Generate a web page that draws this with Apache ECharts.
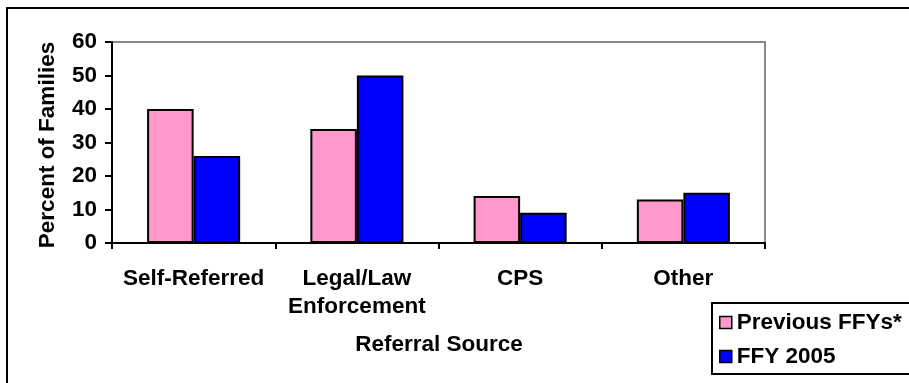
<!DOCTYPE html>
<html>
<head>
<meta charset="utf-8">
<script src="https://cdn.jsdelivr.net/npm/echarts@6/dist/echarts.min.js"></script>
<style>
  html, body { margin: 0; padding: 0; background: #fff; }
  #chart { width: 909px; height: 383px; }
</style>
</head>
<body>
<div id="chart"></div>
<script>
// Referral sources of families, previous federal fiscal years vs FFY 2005
const categories = ['Self-Referred', 'Legal/Law\nEnforcement', 'CPS', 'Other'];
const previousFFYs = [40, 34, 14, 13];
const ffy2005 = [26, 50, 9, 15];
const yTicks = [0, 10, 20, 30, 40, 50, 60];
const seriesNames = ['Previous FFYs*', 'FFY 2005'];

const FONT = '"Liberation Sans", Arial, sans-serif';
const FS = 22.5;
const chart = echarts.init(document.getElementById('chart'), null, { renderer: 'canvas' });

const option = {
  animation: false,
  backgroundColor: '#ffffff',
  grid: {
    left: 112, top: 42, right: 144, bottom: 140,
    show: true, borderColor: '#888888', borderWidth: 2, backgroundColor: 'transparent'
  },
  legend: {
    orient: 'vertical',
    left: 719, top: 311,
    itemWidth: 12, itemHeight: 12, itemGap: 11,
    icon: 'rect',
    padding: 0,
    itemStyle: { borderColor: '#000', borderWidth: 1.5 },
    textStyle: { fontFamily: FONT, fontWeight: 'bold', fontSize: FS, color: '#000', padding: [0, 0, 0, 0] },
    data: seriesNames
  },
  xAxis: {
    type: 'category',
    data: categories,
    axisLine: { lineStyle: { color: '#000', width: 2 } },
    axisTick: { show: true, length: 6, alignWithLabel: false, lineStyle: { color: '#000', width: 2 } },
    axisLabel: {
      interval: 0, margin: 22, lineHeight: 28,
      fontFamily: FONT, fontWeight: 'bold', fontSize: FS, color: '#000'
    }
  },
  yAxis: {
    type: 'value',
    min: yTicks[0], max: yTicks[yTicks.length - 1], interval: 10,
    axisLine: { show: true, lineStyle: { color: '#000', width: 2 } },
    axisTick: { show: true, length: 7, lineStyle: { color: '#000', width: 2 } },
    splitLine: { show: false },
    axisLabel: { margin: 15, fontFamily: FONT, fontWeight: 'bold', fontSize: FS, color: '#000' }
  },
  series: [
    {
      name: seriesNames[0], type: 'bar', data: previousFFYs,
      barGap: '0%', barCategoryGap: '43%',
      itemStyle: { color: '#FF99CC', borderColor: '#000', borderWidth: 2 }
    },
    {
      name: seriesNames[1], type: 'bar', data: ffy2005,
      barGap: '0%', barCategoryGap: '43%',
      itemStyle: { color: '#0000FF', borderColor: '#000', borderWidth: 2 }
    }
  ],
  graphic: [
    // outer chart frame (continues past the right and bottom edges)
    { type: 'rect', shape: { x: 7, y: 8, width: 1000, height: 500 },
      style: { fill: 'none', stroke: '#000', lineWidth: 2 }, z: -1 },
    // legend frame
    { type: 'rect', shape: { x: 712, y: 303, width: 300, height: 71 },
      style: { fill: '#fff', stroke: '#000', lineWidth: 2 }, z: -1 },
    // y-axis title
    { type: 'text', x: 48, y: 145, rotation: Math.PI / 2,
      style: { text: 'Percent of Families', font: 'bold ' + FS + 'px ' + FONT, fill: '#000',
               align: 'center', verticalAlign: 'middle' } },
    // x-axis title
    { type: 'text', x: 439, y: 345,
      style: { text: 'Referral Source', font: 'bold ' + FS + 'px ' + FONT, fill: '#000',
               align: 'center', verticalAlign: 'middle' } }
  ]
};
chart.setOption(option);
</script>
</body>
</html>
